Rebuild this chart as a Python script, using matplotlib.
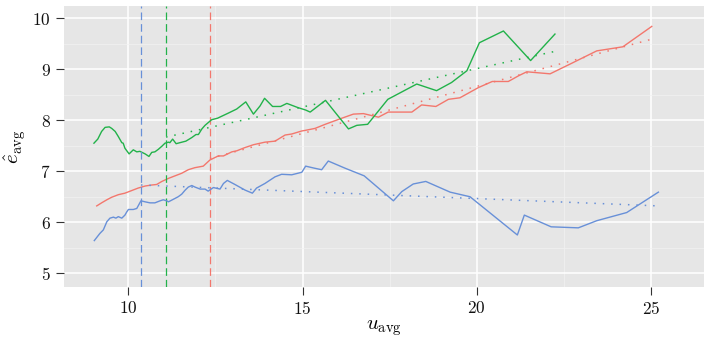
import numpy as np
import matplotlib
matplotlib.use("Agg")
import matplotlib.pyplot as plt
from matplotlib.ticker import MultipleLocator

# blue series
blue_x = [9.02, 9.18, 9.28, 9.38, 9.47, 9.57, 9.64, 9.71, 9.81, 9.90, 9.95, 10.00,
          10.14, 10.24, 10.36, 10.48, 10.62, 10.76, 10.91, 11.00, 11.10, 11.15, 11.29,
          11.43, 11.53, 11.63, 11.72, 11.82, 11.91, 12.06, 12.20, 12.29, 12.44, 12.63,
          12.73, 12.84, 13.06, 13.35, 13.56, 13.68, 13.92, 14.21, 14.40, 14.69, 14.98,
          15.09, 15.34, 15.55, 15.74, 16.22, 16.77, 17.61, 17.85, 18.18, 18.54, 19.24,
          19.81, 21.17, 21.37, 22.14, 22.92, 23.45, 24.31, 25.22]
blue_y = [5.64, 5.78, 5.85, 6.01, 6.08, 6.10, 6.08, 6.11, 6.08, 6.14, 6.20, 6.25,
          6.25, 6.27, 6.42, 6.40, 6.38, 6.38, 6.42, 6.44, 6.42, 6.40, 6.45,
          6.50, 6.55, 6.63, 6.69, 6.72, 6.69, 6.65, 6.65, 6.61, 6.68, 6.65,
          6.76, 6.82, 6.74, 6.63, 6.57, 6.67, 6.76, 6.89, 6.94, 6.93, 6.98,
          7.10, 7.06, 7.03, 7.20, 7.06, 6.91, 6.42, 6.60, 6.75, 6.80, 6.59,
          6.50, 5.75, 6.14, 5.91, 5.89, 6.03, 6.19, 6.59]

# red series
red_x = [9.09, 9.23, 9.38, 9.52, 9.71, 9.90, 10.09, 10.28, 10.48, 10.67, 10.81, 10.96,
         11.15, 11.34, 11.53, 11.72, 11.91, 12.15, 12.34, 12.58, 12.73, 12.97, 13.11,
         13.33, 13.59, 13.92, 14.21, 14.50, 14.69, 14.98, 15.07, 15.36, 15.65, 16.13,
         16.46, 16.75, 17.18, 17.46, 18.14, 18.42, 18.83, 19.19, 19.52, 20.05, 20.45,
         20.91, 21.20, 21.44, 22.11, 22.68, 23.45, 24.20, 25.03]
red_y = [6.32, 6.38, 6.44, 6.49, 6.54, 6.57, 6.62, 6.67, 6.71, 6.73, 6.74, 6.80,
         6.86, 6.91, 6.96, 7.03, 7.07, 7.10, 7.22, 7.30, 7.30, 7.38, 7.40,
         7.46, 7.52, 7.57, 7.59, 7.71, 7.73, 7.79, 7.80, 7.84, 7.92, 8.04,
         8.12, 8.13, 8.06, 8.16, 8.16, 8.30, 8.27, 8.41, 8.44, 8.64, 8.76,
         8.76, 8.87, 8.95, 8.91, 9.10, 9.36, 9.44, 9.84]

# green series
green_x = [9.01, 9.12, 9.23, 9.33, 9.45, 9.52, 9.62, 9.71, 9.81, 9.85, 9.90, 10.02,
           10.14, 10.24, 10.33, 10.48, 10.59, 10.67, 10.76, 10.86, 10.96, 11.05, 11.15,
           11.19, 11.27, 11.37, 11.48, 11.65, 11.82, 11.94, 12.01, 12.11, 12.20, 12.39,
           12.56, 12.87, 13.11, 13.37, 13.59, 13.78, 13.91, 14.14, 14.37, 14.55, 14.86,
           15.09, 15.22, 15.66, 16.32, 16.56, 16.87, 17.45, 18.28, 18.85, 19.28, 19.72,
           20.08, 20.77, 21.55, 22.25]
green_y = [7.55, 7.63, 7.78, 7.86, 7.87, 7.84, 7.78, 7.68, 7.56, 7.55, 7.45, 7.34,
           7.42, 7.38, 7.39, 7.34, 7.29, 7.37, 7.38, 7.43, 7.49, 7.55, 7.57,
           7.56, 7.63, 7.54, 7.56, 7.59, 7.66, 7.72, 7.72, 7.83, 7.90, 8.01,
           8.04, 8.14, 8.22, 8.36, 8.12, 8.28, 8.43, 8.27, 8.27, 8.33, 8.25,
           8.20, 8.16, 8.39, 7.83, 7.90, 7.92, 8.41, 8.71, 8.58, 8.74, 8.97,
           9.52, 9.75, 9.17, 9.69]

# threshold lines and trend endpoints (start at threshold, end at last point)
vline_x = {"blue": 10.36, "green": 11.08, "red": 12.34}
trend_x = {"blue": [10.36, 25.22], "green": [11.08, 22.25], "red": [12.34, 25.03]}
trend_y = {"blue": [6.73, 6.32], "green": [7.67, 9.35], "red": [7.25, 9.59]}

colors = {"red": "#F3776D", "green": "#22B24A", "blue": "#6890D8"}

plt.rcParams["font.family"] = "serif"
plt.rcParams["font.serif"] = ["cmr10"]
plt.rcParams["mathtext.fontset"] = "cm"
plt.rcParams["axes.formatter.use_mathtext"] = True

fig = plt.figure(figsize=(7.04, 3.4), dpi=100)
ax = fig.add_axes([64 / 704, 1 - 287 / 340, 640 / 704, 281 / 340])
ax.set_facecolor("#E6E6E6")
for s in ax.spines.values():
    s.set_visible(False)

ax.xaxis.set_major_locator(MultipleLocator(5))
ax.xaxis.set_minor_locator(MultipleLocator(2.5))
ax.yaxis.set_major_locator(MultipleLocator(1))
ax.yaxis.set_minor_locator(MultipleLocator(0.5))
ax.grid(which="major", color="white", lw=1.1)
ax.grid(which="minor", color="#F2F2F2", lw=0.5)
ax.set_axisbelow(True)
ax.tick_params(which="major", length=5.5, width=0.8, color="#333333",
               labelsize=12.5, pad=4, labelcolor="#111111")
ax.tick_params(which="minor", length=0)

series = [("red", red_x, red_y), ("green", green_x, green_y), ("blue", blue_x, blue_y)]
for name, xs, ys in series:
    c = colors[name]
    ax.plot(xs, ys, color=c, lw=1.0)
    ax.plot(trend_x[name], trend_y[name], color=c, lw=1.1, ls=(0, (1, 4.5)))
    ax.axvline(vline_x[name], color=c, lw=0.9, dashes=(6.1, 3.2))

ax.set_xlim(8.15, 26.53)
ax.set_ylim(4.73, 10.24)
ax.set_xlabel(r"$u_{\mathrm{avg}}$", fontsize=15, labelpad=1)
ax.set_ylabel(r"$\hat{e}_{\mathrm{avg}}$", fontsize=15, labelpad=3)

fig.savefig("out.png", dpi=100)
